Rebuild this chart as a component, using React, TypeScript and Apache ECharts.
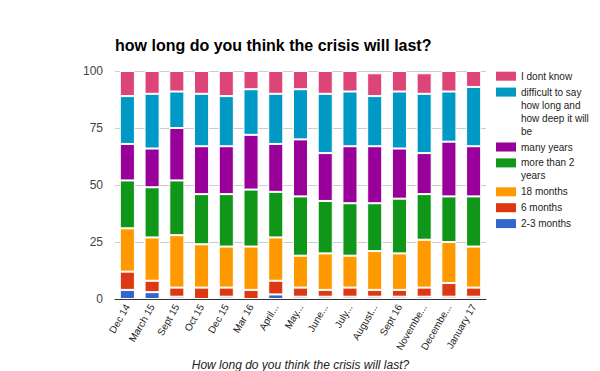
import React, { useEffect, useRef } from "react";
import * as echarts from "echarts";

const categories = [
  "Dec 14", "March 15", "Sept 15", "Oct 15", "Dec 15", "Mar 16", "April...", "May...",
  "June...", "July...", "August...", "Sept 16", "Novembe...", "Decembe...", "January 17",
];
const seriesNames = [
  "2-3 months",
  "6 months",
  "18 months",
  "more than 2 years",
  "many years",
  "difficult to say how long and how deep it will be",
  "I dont know",
];
const seriesColors = ["#3366cc", "#dc3912", "#ff9900", "#109618", "#990099", "#0099c6", "#dd4477"];
const months2to3 = [4, 3, 1, 0, 1, 0, 2, 1, 1, 1, 1, 1, 1, 1, 1];
const months6 = [8, 5, 4, 5, 4, 4, 6, 4, 3, 4, 3, 3, 4, 6, 4];
const months18 = [19, 19, 23, 19, 18, 19, 19, 14, 16, 14, 17, 16, 21, 18, 18];
const moreThan2Years = [21, 22, 24, 22, 23, 25, 20, 26, 23, 23, 21, 24, 20, 20, 22];
const manyYears = [16, 17, 23, 21, 21, 24, 21, 25, 21, 25, 25, 22, 18, 24, 22];
const difficultToSay = [21, 24, 16, 23, 22, 20, 22, 22, 26, 24, 22, 25, 26, 22, 26];
const dontKnow = [11, 10, 9, 10, 11, 8, 10, 8, 10, 9, 10, 9, 9, 9, 7];
const seriesValues = [months2to3, months6, months18, moreThan2Years, manyYears, difficultToSay, dontKnow];
const yMin = 0;
const yMax = 100;
const yStep = 25;

const titleText = "how long do you think the crisis will last?";
const xAxisTitle = "How long do you think the crisis will last?";

const FONT = "'Liberation Sans', Arial, sans-serif";

function wrapText(text: string, maxWidth: number, font: string): string[] {
  const ctx = document.createElement("canvas").getContext("2d");
  if (!ctx) return [text];
  ctx.font = font;
  const words = text.split(" ");
  const lines: string[] = [];
  let cur = "";
  for (const w of words) {
    const t = cur ? cur + " " + w : w;
    if (cur && ctx.measureText(t).width > maxWidth) {
      lines.push(cur);
      cur = w;
    } else {
      cur = t;
    }
  }
  if (cur) lines.push(cur);
  return lines;
}

export default function App() {
  const ref = useRef<HTMLDivElement>(null);

  useEffect(() => {
    if (!ref.current) return;
    const chart = echarts.init(ref.current, null, { renderer: "svg" });

    // legend built as graphic, items in reverse series order
    const legendElems: any[] = [];
    const lineH = 13;
    const gap = 2.9;
    let y = 71.7;
    for (let k = seriesNames.length - 1; k >= 0; k--) {
      const lines = wrapText(seriesNames[k], 72, `10px ${FONT}`);
      legendElems.push({
        type: "rect",
        shape: { x: 496, y, width: 20, height: 9 },
        style: { fill: seriesColors[k] },
      });
      legendElems.push({
        type: "text",
        x: 521,
        y: y + 4.5 - lineH / 2,
        style: {
          text: lines.join("\n"),
          fontSize: 10,
          fontFamily: FONT,
          fill: "#222",
          lineHeight: lineH,
          verticalAlign: "top",
          align: "left",
        },
      });
      y += lines.length * lineH + gap;
    }

    chart.setOption({
      animation: false,
      textStyle: { fontFamily: FONT },
      title: {
        text: titleText,
        left: 115,
        top: 37,
        padding: 0,
        textStyle: { fontSize: 16, fontWeight: "bold", color: "#000", fontFamily: FONT },
      },
      grid: {
        left: 115,
        right: 114,
        top: 71,
        bottom: 72,
        containLabel: false,
        outerBoundsMode: "none",
      },
      xAxis: {
        type: "category",
        data: categories,
        axisTick: { show: false },
        axisLine: { show: true, lineStyle: { color: "#333", width: 1 } },
        axisLabel: { rotate: 60, interval: 0, fontSize: 10, color: "#222", margin: 6 },
        name: xAxisTitle,
        nameLocation: "middle",
        nameGap: 57,
        nameTextStyle: { fontStyle: "italic", fontSize: 12, color: "#222" },
      },
      yAxis: {
        type: "value",
        min: yMin,
        max: yMax,
        interval: yStep,
        axisLine: { show: false },
        axisTick: { show: false },
        axisLabel: { fontSize: 12, color: "#444", margin: 12 },
        splitLine: { lineStyle: { color: "#ccc" } },
      },
      series: seriesNames.map((name, i) => ({
        name,
        type: "bar",
        stack: "total",
        barCategoryGap: "39%",
        data: seriesValues[i].map((v) => (v === 0 ? null : v)),
        itemStyle: { color: seriesColors[i], borderColor: "#fff", borderWidth: 1 },
      })),
      graphic: legendElems,
    });

    return () => chart.dispose();
  }, []);

  return (
    <div
      ref={ref}
      style={{ position: "fixed", left: 0, top: 0, width: 600, height: 371, background: "#fff" }}
    />
  );
}
